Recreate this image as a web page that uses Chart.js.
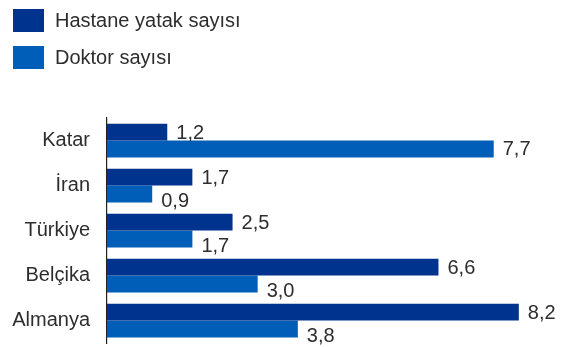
<!DOCTYPE html>
<html>
<head>
<meta charset="utf-8">
<script src="https://cdn.jsdelivr.net/npm/chart.js@4"></script>
<style>
  html, body { margin: 0; padding: 0; background: #fff; }
</style>
</head>
<body>
<canvas id="myChart" width="564" height="347"></canvas>
<script>
var categories = ['Katar', 'İran', 'Türkiye', 'Belçika', 'Almanya'];
var seriesNames = ['Hastane yatak sayısı', 'Doktor sayısı'];
var hastaneYatak = [1.2, 1.7, 2.5, 6.6, 8.2];
var doktor = [7.7, 0.9, 1.7, 3.0, 3.8];

var textColor = '#2d2d2d';
var fontFamily = "'Liberation Sans', Arial, sans-serif";

function fmt(v) {
    return v.toFixed(1).replace('.', ',');
}

// legend drawn as two stacked rows at the top left
var legendRows = {
    id: 'legendRows',
    afterDraw: function (chart) {
        var ctx = chart.ctx;
        ctx.save();
        ctx.font = '20px ' + fontFamily;
        ctx.textBaseline = 'middle';
        ctx.textAlign = 'left';
        chart.data.datasets.forEach(function (ds, i) {
            var y = 9 + i * 37;
            ctx.fillStyle = ds.backgroundColor;
            ctx.fillRect(13, y, 31, 23);
            ctx.fillStyle = textColor;
            ctx.fillText(ds.label, 55, y + 12);
        });
        ctx.restore();
    }
};

// value labels at the end of each bar
var valueLabels = {
    id: 'valueLabels',
    afterDatasetsDraw: function (chart) {
        var ctx = chart.ctx;
        var d0 = chart.data.datasets[0].data;
        ctx.save();
        ctx.font = '20px ' + fontFamily;
        ctx.fillStyle = textColor;
        ctx.textBaseline = 'middle';
        ctx.textAlign = 'left';
        chart.data.datasets.forEach(function (ds, i) {
            var meta = chart.getDatasetMeta(i);
            meta.data.forEach(function (bar, j) {
                var dy = 0;
                if (i === 1 && ds.data[j] < d0[j]) dy = 7; // push below the upper label
                ctx.fillText(fmt(ds.data[j]), bar.x + 9, bar.y + dy + 1);
            });
        });
        ctx.restore();
    }
};

var ctx = document.getElementById('myChart').getContext('2d');

var myChart = new Chart(ctx, {
    type: 'bar',
    data: {
        labels: categories,
        datasets: [{
            label: seriesNames[0],
            data: hastaneYatak,
            backgroundColor: '#00338D'
        }, {
            label: seriesNames[1],
            data: doktor,
            backgroundColor: '#005EB8'
        }]
    },
    options: {
        indexAxis: 'y',
        responsive: false,
        animation: false,
        categoryPercentage: 0.75,
        barPercentage: 1.0,
        layout: {
            padding: { top: 118, bottom: 4, right: 5, left: 0 }
        },
        scales: {
            x: {
                display: false,
                min: 0,
                max: 9
            },
            y: {
                grid: { display: false, drawTicks: false },
                border: { display: true, color: '#222', width: 1.2 },
                ticks: {
                    padding: 17,
                    color: textColor,
                    font: { family: fontFamily, size: 20 }
                },
                afterFit: function (scale) {
                    scale.width = 107;
                    // tick padding would otherwise eat space above/below the plot
                    scale.paddingTop = 0;
                    scale.paddingBottom = 0;
                }
            }
        },
        plugins: {
            legend: { display: false },
            tooltip: { enabled: false }
        }
    },
    plugins: [legendRows, valueLabels]
});
</script>
</body>
</html>
